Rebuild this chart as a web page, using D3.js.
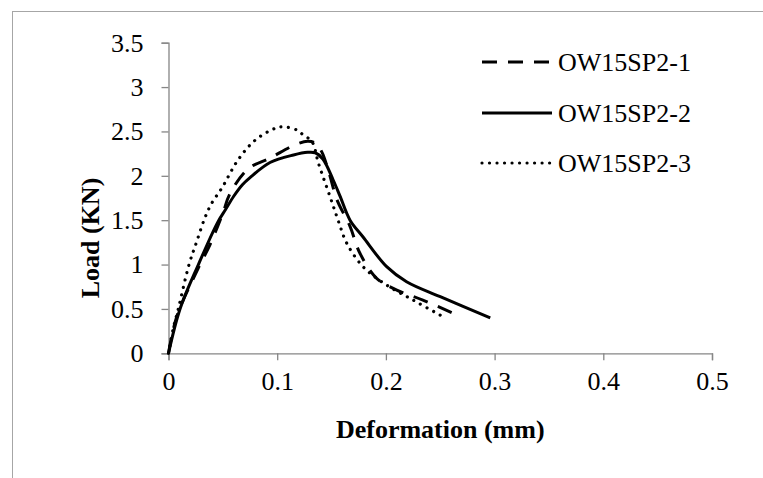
<!DOCTYPE html>
<html>
<head>
<meta charset="utf-8">
<script src="https://cdn.jsdelivr.net/npm/d3@7"></script>
<style>
  html, body { margin: 0; padding: 0; background: #fff; }
  svg { display: block; }
  text { font-family: "Liberation Serif", "Times New Roman", serif; fill: #000; }
</style>
</head>
<body>
<svg id="chart" width="763" height="478"></svg>
<script>
// ---- data ----
const seriesNames = ["OW15SP2-1", "OW15SP2-2", "OW15SP2-3"];
const s1x = [0, 0.0075, 0.0274, 0.038, 0.050, 0.0566, 0.0734, 0.0934, 0.1164, 0.128, 0.135, 0.141, 0.148, 0.155, 0.167, 0.176, 0.1915, 0.21, 0.234, 0.262];
const s1y = [0, 0.41, 0.96, 1.22, 1.58, 1.80, 2.08, 2.20, 2.35, 2.39, 2.37, 2.27, 2.02, 1.73, 1.43, 1.13, 0.845, 0.713, 0.60, 0.45];
const s2x = [0, 0.0106, 0.0275, 0.045, 0.0525, 0.060, 0.068, 0.075, 0.0934, 0.115, 0.128, 0.135, 0.142, 0.1516, 0.158, 0.167, 0.179, 0.2007, 0.219, 0.250, 0.296];
const s2y = [0, 0.5, 1.0, 1.47, 1.62, 1.77, 1.90, 1.98, 2.15, 2.235, 2.265, 2.26, 2.19, 1.95, 1.765, 1.50, 1.31, 0.976, 0.807, 0.638, 0.40];
const s3x = [0, 0.0044, 0.009, 0.0189, 0.026, 0.0336, 0.0397, 0.049, 0.064, 0.0796, 0.098, 0.1056, 0.118, 0.124, 0.132, 0.138, 0.1486, 0.156, 0.164, 0.179, 0.198, 0.225, 0.253];
const s3y = [0, 0.28, 0.5, 1.0, 1.26, 1.53, 1.69, 1.86, 2.18, 2.40, 2.535, 2.553, 2.516, 2.46, 2.385, 2.14, 1.765, 1.50, 1.24, 0.976, 0.79, 0.60, 0.41];
const xTicks = [0, 0.1, 0.2, 0.3, 0.4, 0.5];
const yTicks = [0, 0.5, 1, 1.5, 2, 2.5, 3, 3.5];
const xTitle = "Deformation (mm)";
const yTitle = "Load (KN)";

// ---- layout ----
const svg = d3.select("#chart");
const x = d3.scaleLinear().domain([0, 0.5]).range([168.5, 712]);
const y = d3.scaleLinear().domain([0, 3.5]).range([353.3, 42.7]);
const axisColor = "#868686";
const FS = 26;

// outer frame (top & left edges visible)
svg.append("rect").attr("x", 12.5).attr("y", 11.5).attr("width", 900).attr("height", 600)
  .attr("fill", "none").attr("stroke", "#a6a6a6").attr("stroke-width", 1);

// axes
const xAxis = svg.append("g").attr("transform", `translate(0,${y(0)})`)
  .call(d3.axisBottom(x).tickValues(xTicks).tickSize(7).tickPadding(11).tickFormat(d3.format("")));
const yAxis = svg.append("g").attr("transform", `translate(${x(0)},0)`)
  .call(d3.axisLeft(y).tickValues(yTicks).tickSize(7).tickPadding(18).tickFormat(d3.format("")));
[xAxis, yAxis].forEach(g => {
  g.select(".domain").attr("stroke", axisColor).attr("stroke-width", 1.3);
  g.selectAll(".tick line").attr("stroke", axisColor).attr("stroke-width", 1.3);
  g.selectAll(".tick text").attr("font-family", "Liberation Serif, Times New Roman, serif")
    .attr("font-size", FS).attr("fill", "#000");
});

// titles
svg.append("text").attr("x", (x(0) + x(0.5)) / 2).attr("y", 438)
  .attr("text-anchor", "middle").attr("font-weight", "bold").attr("font-size", FS)
  .text(xTitle);
svg.append("text").attr("transform", "translate(99,238) rotate(-90)")
  .attr("text-anchor", "middle").attr("font-weight", "bold").attr("font-size", FS)
  .text(yTitle);

// series
const styles = [
  { dash: "15,11", cap: "butt", w: 3 },
  { dash: null, cap: "butt", w: 3 },
  { dash: "0.01,7.5", cap: "round", w: 3.2 }
];
const data = [
  s1x.map((v, i) => [v, s1y[i]]),
  s2x.map((v, i) => [v, s2y[i]]),
  s3x.map((v, i) => [v, s3y[i]])
];
const line = d3.line().x(d => x(d[0])).y(d => y(d[1])).curve(d3.curveCatmullRom.alpha(0.5));
data.forEach((d, i) => {
  svg.append("path").datum(d).attr("d", line)
    .attr("fill", "none").attr("stroke", "#000")
    .attr("stroke-width", styles[i].w)
    .attr("stroke-linecap", styles[i].cap)
    .attr("stroke-linejoin", "round")
    .attr("stroke-dasharray", styles[i].dash);
});

// legend
const legendY = [62, 113, 163];
seriesNames.forEach((name, i) => {
  svg.append("line").attr("x1", 482).attr("x2", 552).attr("y1", legendY[i]).attr("y2", legendY[i])
    .attr("stroke", "#000").attr("stroke-width", styles[i].w)
    .attr("stroke-linecap", styles[i].cap).attr("stroke-dasharray", styles[i].dash);
  svg.append("text").attr("x", 558).attr("y", legendY[i] + 9).attr("font-size", FS).text(name);
});
</script>
</body>
</html>
